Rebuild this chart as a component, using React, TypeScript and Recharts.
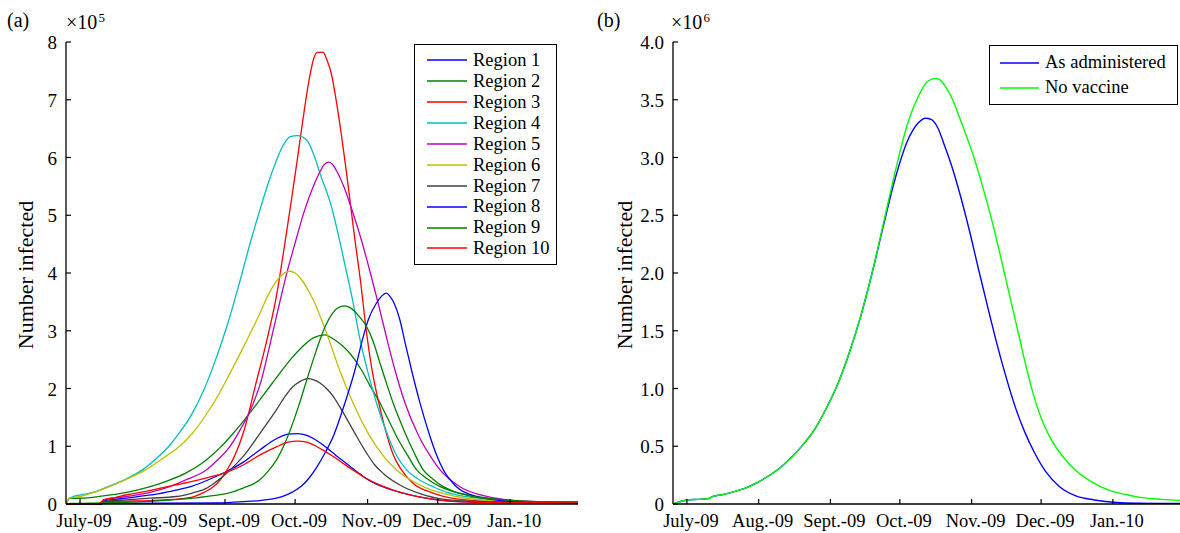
import { LineChart, Line, XAxis, YAxis, Legend } from "recharts"

type Pt = [number, number]

const FONT = "'Liberation Serif', 'Times New Roman', Times, serif"

// x is days since 1 July 2009
const monthTicks = [0, 31, 62, 92, 123, 153, 184]
const monthLabels = ["July-09", "Aug.-09", "Sept.-09", "Oct.-09", "Nov.-09", "Dec.-09", "Jan.-10"]
const dayDomain: [number, number] = [-6, 213]

// panel (a): values in units of 1e5
const leftTicks = [0, 1, 2, 3, 4, 5, 6, 7, 8]
const regionNames = ["Region 1", "Region 2", "Region 3", "Region 4", "Region 5", "Region 6", "Region 7", "Region 8", "Region 9", "Region 10"]
const regionColors = ["#0000ff", "#008000", "#ff0000", "#00bfbf", "#bf00bf", "#bfbf00", "#404040", "#0000ff", "#008000", "#ff0000"]

const region1: Pt[] = [[-6, 0], [8, 0], [10, 0.05], [15, 0.08], [20, 0.1], [27, 0.14], [34, 0.18], [41, 0.24], [48, 0.31], [55, 0.42], [62, 0.55], [70, 0.73], [77, 0.94], [84, 1.13], [89, 1.21], [93, 1.22], [97, 1.19], [100, 1.13], [104, 1.02], [108, 0.89], [112, 0.76], [115.5, 0.65], [119, 0.54], [122.5, 0.44], [126, 0.36], [130, 0.29], [137, 0.2], [143, 0.14], [148, 0.1], [158, 0.05], [170, 0.03], [190, 0.02], [213, 0.02]]
const region2: Pt[] = [[-6, 0], [-4.5, 0.1], [0, 0.1], [10, 0.14], [20, 0.2], [30, 0.3], [38, 0.41], [45, 0.53], [52, 0.7], [56, 0.83], [60, 0.98], [65, 1.2], [70, 1.44], [75, 1.7], [80, 1.97], [85, 2.24], [90, 2.5], [95, 2.72], [100, 2.88], [104.7, 2.93], [109, 2.84], [112, 2.75], [115.4, 2.61], [120.4, 2.32], [124, 2.05], [128.3, 1.75], [132, 1.45], [135.4, 1.17], [140, 0.85], [144, 0.59], [148, 0.45], [154, 0.3], [161, 0.2], [169.7, 0.13], [185, 0.05], [213, 0.03]]
const region3: Pt[] = [[-6, 0], [8, 0], [10, 0.04], [20, 0.05], [30, 0.06], [40, 0.08], [48, 0.12], [53, 0.2], [57, 0.3], [60, 0.42], [63, 0.6], [66, 0.82], [70, 1.25], [75, 2.05], [80, 2.85], [84, 3.6], [87, 4.35], [90, 5.15], [93, 5.98], [95.5, 6.7], [98, 7.35], [100, 7.72], [101.5, 7.82], [104, 7.82], [105.5, 7.7], [107.5, 7.45], [110, 6.88], [114, 5.73], [117.5, 4.6], [120, 3.85], [122.6, 2.95], [125, 2.3], [127.8, 1.75], [131.4, 1.17], [134, 0.85], [137.5, 0.59], [142.4, 0.36], [151, 0.19], [165, 0.07], [180, 0.04], [213, 0.03]]
const region4: Pt[] = [[-6, 0], [-4.5, 0.1], [-2, 0.14], [2, 0.17], [7, 0.22], [12, 0.3], [20, 0.44], [27, 0.6], [33, 0.8], [38, 1.0], [43, 1.26], [48, 1.57], [53, 1.98], [58, 2.5], [63, 3.1], [68, 3.8], [73, 4.55], [77, 5.1], [82, 5.73], [87, 6.22], [90, 6.36], [93, 6.38], [97, 6.3], [100, 6.05], [102.6, 5.73], [107.6, 5.14], [111, 4.57], [113.8, 4.05], [116.6, 3.53], [119.4, 2.92], [123, 2.3], [126.8, 1.75], [131.8, 1.17], [135, 0.87], [139.7, 0.59], [145, 0.42], [151, 0.3], [157, 0.2], [165, 0.13], [180, 0.07], [195, 0.04], [213, 0.03]]
const region5: Pt[] = [[-6, 0], [9, 0], [10, 0.07], [20, 0.13], [30, 0.2], [38.3, 0.3], [46, 0.43], [54, 0.59], [59, 0.77], [64, 0.99], [68, 1.25], [72.6, 1.6], [77.6, 2.15], [81, 2.72], [84.5, 3.33], [88, 3.93], [92, 4.52], [96, 5.08], [99, 5.42], [102, 5.7], [104.5, 5.88], [106.5, 5.92], [108, 5.88], [110, 5.75], [113, 5.48], [116, 5.13], [120, 4.62], [124, 4.03], [127.5, 3.48], [131, 2.9], [134.7, 2.32], [139, 1.75], [145, 1.17], [150, 0.82], [154, 0.59], [162.5, 0.3], [174, 0.13], [190, 0.05], [213, 0.03]]
const region6: Pt[] = [[-6, 0], [-4.5, 0.1], [0, 0.13], [6, 0.2], [12.6, 0.3], [20, 0.43], [28, 0.59], [35, 0.78], [42.6, 1.0], [48, 1.22], [54, 1.55], [58.5, 1.84], [63.3, 2.2], [70.4, 2.76], [76.9, 3.3], [80, 3.58], [83, 3.8], [86.5, 3.97], [89.7, 4.03], [92, 4.0], [95, 3.87], [98, 3.67], [100.5, 3.47], [103, 3.22], [106, 2.9], [111, 2.32], [116.8, 1.75], [124, 1.17], [130, 0.82], [135.4, 0.59], [146.8, 0.3], [161, 0.13], [180, 0.05], [213, 0.03]]
const region7: Pt[] = [[-6, 0], [9, 0], [10, 0.04], [19.8, 0.07], [30, 0.1], [41.2, 0.13], [48, 0.19], [54, 0.27], [58, 0.38], [62.6, 0.53], [66, 0.66], [69.7, 0.82], [76.9, 1.22], [84, 1.63], [88, 1.88], [91, 2.03], [94, 2.12], [97.5, 2.17], [100, 2.15], [102.5, 2.1], [105.4, 2.0], [108, 1.88], [111, 1.69], [116.8, 1.28], [122.6, 0.88], [126, 0.68], [129.7, 0.53], [136.8, 0.33], [145.4, 0.18], [158, 0.07], [175, 0.04], [213, 0.03]]
const region8: Pt[] = [[-6, 0], [9, 0], [10, 0.01], [60, 0.02], [70, 0.04], [77, 0.06], [84, 0.1], [91, 0.21], [95, 0.32], [98, 0.45], [101, 0.62], [105, 0.9], [108.3, 1.17], [113.3, 1.75], [117.6, 2.32], [120.5, 2.8], [123.3, 3.19], [126.8, 3.48], [129, 3.6], [131, 3.65], [132.5, 3.6], [134.3, 3.48], [136.8, 3.19], [139, 2.8], [141.8, 2.32], [145.4, 1.75], [149.7, 1.17], [152.5, 0.85], [155.4, 0.59], [161, 0.3], [169.7, 0.13], [180, 0.06], [195, 0.03], [213, 0.02]]
const region9: Pt[] = [[-6, 0], [-4, 0.01], [10, 0.02], [19.8, 0.03], [35, 0.06], [48.3, 0.1], [56, 0.14], [62.6, 0.18], [70, 0.28], [76.9, 0.42], [80.5, 0.57], [84, 0.76], [87.5, 1.04], [91, 1.4], [94, 1.76], [97, 2.15], [100, 2.53], [102.6, 2.84], [105.4, 3.12], [108, 3.3], [110, 3.39], [113.3, 3.43], [115.5, 3.4], [117.6, 3.33], [120, 3.22], [122.6, 3.07], [125.5, 2.8], [128.3, 2.44], [131, 2.1], [134, 1.74], [137, 1.43], [139.7, 1.17], [143, 0.88], [146.8, 0.59], [151, 0.43], [155.4, 0.3], [161, 0.2], [168, 0.13], [182, 0.07], [195, 0.04], [213, 0.03]]
const region10: Pt[] = [[-6, 0], [8, 0], [10, 0.07], [15, 0.11], [20, 0.16], [27, 0.21], [34, 0.27], [41, 0.33], [48, 0.39], [55, 0.46], [62, 0.54], [70, 0.68], [77, 0.85], [84, 0.99], [89, 1.07], [93, 1.09], [97, 1.07], [101, 1.0], [104.5, 0.92], [108, 0.83], [112, 0.72], [115.5, 0.62], [119, 0.53], [122.5, 0.44], [126, 0.37], [130, 0.3], [137, 0.2], [143, 0.14], [148, 0.1], [158, 0.05], [170, 0.03], [213, 0.02]]

const regions = [region1, region2, region3, region4, region5, region6, region7, region8, region9, region10]

// panel (b): values in units of 1e6
const rightTicks = [0, 0.5, 1, 1.5, 2, 2.5, 3, 3.5, 4]
const rightTickLabels = ["0", "0.5", "1.0", "1.5", "2.0", "2.5", "3.0", "3.5", "4.0"]
const scenarioNames = ["As administered", "No vaccine"]
const scenarioColors = ["#0000ff", "#00ff00"]

const asAdministered: Pt[] = [[-6, 0], [-3, 0.02], [0, 0.035], [5, 0.04], [9, 0.045], [11.5, 0.068], [15, 0.08], [20, 0.105], [25, 0.135], [30, 0.18], [35, 0.24], [40, 0.31], [45, 0.4], [50, 0.51], [55, 0.64], [60, 0.82], [65, 1.03], [70, 1.3], [75, 1.62], [80, 2.0], [85, 2.42], [90, 2.82], [95, 3.13], [100, 3.3], [103, 3.34], [105.5, 3.33], [108.3, 3.26], [111, 3.12], [114, 2.95], [118, 2.68], [122, 2.37], [126, 2.03], [130, 1.7], [134, 1.38], [138, 1.09], [142, 0.83], [146, 0.62], [150, 0.45], [155, 0.28], [161, 0.15], [168, 0.07], [176, 0.035], [184, 0.015], [195, 0.006], [213, 0.005]]
const noVaccine: Pt[] = [[-6, 0], [-3, 0.02], [0, 0.035], [5, 0.04], [9, 0.045], [11.5, 0.068], [15, 0.08], [20, 0.105], [25, 0.135], [30, 0.18], [35, 0.24], [40, 0.31], [45, 0.4], [50, 0.51], [55, 0.64], [60, 0.82], [65, 1.03], [70, 1.3], [75, 1.62], [80, 2.0], [85, 2.44], [90, 2.88], [95, 3.27], [100, 3.53], [104, 3.66], [107.5, 3.685], [109.5, 3.67], [111.5, 3.62], [114.8, 3.5], [117.5, 3.36], [120.5, 3.2], [124, 3.0], [127, 2.8], [131.8, 2.45], [137.5, 1.97], [143.5, 1.45], [147, 1.15], [150.7, 0.88], [153.5, 0.72], [156.5, 0.59], [162, 0.42], [168, 0.29], [175, 0.19], [182.3, 0.12], [190, 0.08], [196.6, 0.055], [205, 0.04], [213, 0.03]]

const scenarios = [asAdministered, noVaccine]

const toRows = (pts: Pt[]) => pts.map(([day, v]) => ({ day, v }))

const MonthTick = ({ x, y, payload }: any) => {
    const i = monthTicks.indexOf(payload.value)
    return (
        <g>
            <line x1={x} y1={y} x2={x} y2={y - 5} stroke="#000" strokeWidth={1.2} />
            <text x={x + 4} y={y + 23} textAnchor="middle" fontSize={18.5} fontFamily={FONT} fill="#000">
                {monthLabels[i]}
            </text>
        </g>
    )
}

const ValueTick = ({ x, y, payload, labels, ticks }: any) => {
    const i = ticks.indexOf(payload.value)
    return (
        <g>
            <line x1={x} y1={y} x2={x + 5} y2={y} stroke="#000" strokeWidth={1.2} />
            <text x={x - 9} y={y + 7} textAnchor="end" fontSize={19} fontFamily={FONT} fill="#000">
                {labels[i]}
            </text>
        </g>
    )
}

const AxisTitle = ({ x }: { x: number }) => (
    <text
        x={x}
        y={275}
        transform={`rotate(-90 ${x} 275)`}
        textAnchor="middle"
        fontSize={22}
        fontFamily={FONT}
        fill="#000"
    >
        Number infected
    </text>
)

const BoxLegend = ({ payload, order, rowH, lineW, padL, padV }: any) => {
    const items = [...(payload || [])].sort((a: any, b: any) => order.indexOf(a.value) - order.indexOf(b.value))
    return (
        <div
            style={{
                border: "1.3px solid #000",
                background: "#fff",
                padding: `${padV}px 6px ${padV}px ${padL}px`,
                fontFamily: FONT,
                fontSize: 18.5,
                color: "#000",
                boxSizing: "border-box",
            }}
        >
            {items.map((entry: any) => (
                <div key={entry.value} style={{ display: "flex", alignItems: "center", height: rowH }}>
                    <svg width={lineW} height={4} style={{ marginRight: 6 }}>
                        <line x1={0} y1={2} x2={lineW} y2={2} stroke={entry.color} strokeWidth={1.5} />
                    </svg>
                    <span style={{ lineHeight: 1, whiteSpace: "nowrap" }}>{entry.value}</span>
                </div>
            ))}
        </div>
    )
}

const axisStroke = { stroke: "#000", strokeWidth: 1.3 }

export default function App() {
    return (
        <div style={{ position: "absolute", left: 0, top: 0, width: 1180, height: 533, background: "#fff" }}>
            <div style={{ position: "absolute", left: 0, top: 0 }}>
                <LineChart width={590} height={533} margin={{ top: 42, right: 12, bottom: 0, left: 0 }}>
                    <XAxis
                        type="number"
                        dataKey="day"
                        domain={dayDomain}
                        ticks={monthTicks}
                        allowDataOverflow
                        height={29}
                        tickSize={0}
                        tickMargin={0}
                        tickLine={false}
                        axisLine={axisStroke}
                        tick={<MonthTick />}
                    />
                    <YAxis
                        type="number"
                        domain={[0, 8]}
                        ticks={leftTicks}
                        width={66}
                        tickSize={0}
                        tickMargin={0}
                        tickLine={false}
                        axisLine={axisStroke}
                        tick={<ValueTick ticks={leftTicks} labels={leftTicks.map(String)} />}
                        label={<AxisTitle x={31} />}
                    />
                    <Legend
                        layout="vertical"
                        align="center"
                        verticalAlign="middle"
                        wrapperStyle={{ left: 414, top: 44, width: 143 }}
                        content={(props: any) => (
                            <BoxLegend {...props} order={regionNames} rowH={20.9} lineW={40} padL={12} padV={5} />
                        )}
                    />
                    {regions.map((pts, i) => (
                        <Line
                            key={regionNames[i]}
                            data={toRows(pts)}
                            dataKey="v"
                            name={regionNames[i]}
                            type="monotone"
                            stroke={regionColors[i]}
                            strokeWidth={1.3}
                            dot={false}
                            activeDot={false}
                            isAnimationActive={false}
                        />
                    ))}
                </LineChart>
            </div>

            <div style={{ position: "absolute", left: 590, top: 0 }}>
                <LineChart width={590} height={533} margin={{ top: 42, right: 0, bottom: 0, left: 0 }}>
                    <XAxis
                        type="number"
                        dataKey="day"
                        domain={dayDomain}
                        ticks={monthTicks}
                        allowDataOverflow
                        height={29}
                        tickSize={0}
                        tickMargin={0}
                        tickLine={false}
                        axisLine={axisStroke}
                        tick={<MonthTick />}
                    />
                    <YAxis
                        type="number"
                        domain={[0, 4]}
                        ticks={rightTicks}
                        width={83}
                        tickSize={0}
                        tickMargin={0}
                        tickLine={false}
                        axisLine={axisStroke}
                        tick={<ValueTick ticks={rightTicks} labels={rightTickLabels} />}
                        label={<AxisTitle x={39} />}
                    />
                    <Legend
                        layout="vertical"
                        align="center"
                        verticalAlign="middle"
                        wrapperStyle={{ left: 399, top: 45, width: 189 }}
                        content={(props: any) => (
                            <BoxLegend {...props} order={scenarioNames} rowH={25} lineW={39} padL={10} padV={4} />
                        )}
                    />
                    {scenarios.map((pts, i) => (
                        <Line
                            key={scenarioNames[i]}
                            data={toRows(pts)}
                            dataKey="v"
                            name={scenarioNames[i]}
                            type="monotone"
                            stroke={scenarioColors[i]}
                            strokeWidth={1.4}
                            dot={false}
                            activeDot={false}
                            isAnimationActive={false}
                        />
                    ))}
                </LineChart>
            </div>

            <svg width={1180} height={40} style={{ position: "absolute", left: 0, top: 0, pointerEvents: "none" }}>
                <g fontFamily={FONT} fill="#000">
                    <text x={7} y={27} fontSize={20}>(a)</text>
                    <text x={66} y={29} fontSize={20}>×10</text>
                    <text x={98.5} y={21.5} fontSize={13}>5</text>
                    <text x={597} y={27} fontSize={20}>(b)</text>
                    <text x={671} y={29} fontSize={20}>×10</text>
                    <text x={703.5} y={21.5} fontSize={13}>6</text>
                </g>
            </svg>
        </div>
    )
}
